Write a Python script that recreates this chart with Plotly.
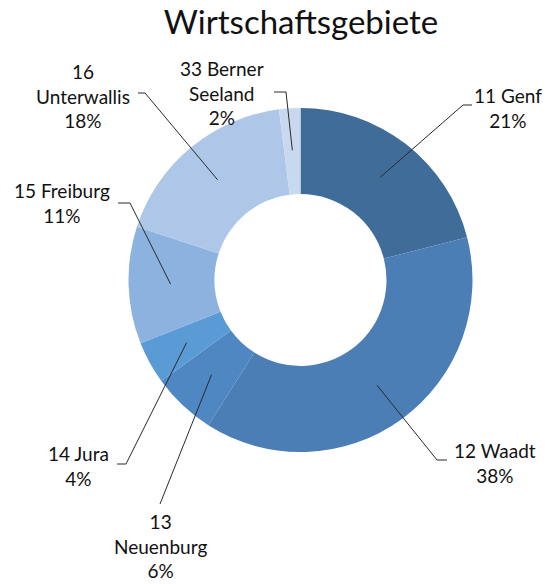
import math
import plotly.graph_objects as go

# ---- data ----
codes = ["11", "12", "13", "14", "15", "16", "33"]
names = ["Genf", "Waadt", "Neuenburg", "Jura", "Freiburg", "Unterwallis", "Berner Seeland"]
shares = [21, 38, 6, 4, 11, 18, 2]
label_texts = ["11 Genf", "12 Waadt", "13<br>Neuenburg", "14 Jura",
               "15 Freiburg", "16<br>Unterwallis", "33 Berner<br>Seeland"]
title_text = "Wirtschaftsgebiete"

# ---- style / layout ----
W, H = 549, 584
colors = ["#3F6C99", "#4A7EB5", "#4F87C2", "#5B9BD5", "#8CB2E0", "#AEC7E8", "#C8D8EF"]
cx, cy, R = 300.5, 280.0, 172.0        # pie centre/radius in pixels
hole = 0.5
tip_r = 130.0                           # where leader lines touch the slices
# label block centres (pixels)
label_centres = [(508, 108), (495, 463), (160, 546), (78, 466),
                 (62, 203), (83, 96), (222, 93)]
# leader-line elbow and tail end (pixels)
elbows = [(463, 105), (437, 460), (160, 504), (126, 464),
          (130, 203), (145, 93), (286, 92)]
tails = [(472, 105), (447, 460), (160, 504), (117, 464),
         (118, 203), (138, 93), (274, 92)]
font_family = "Lato, 'Open Sans', sans-serif"


def px(x):
    return x / W


def py(y):
    return 1 - y / H


fig = go.Figure(go.Pie(
    labels=[f"{c} {n}" for c, n in zip(codes, names)],
    values=shares,
    hole=hole,
    sort=False,
    direction="clockwise",
    rotation=0,
    marker=dict(colors=colors, line=dict(width=0)),
    textinfo="none",
    hoverinfo="label+percent",
    domain=dict(x=[px(cx - R), px(cx + R)],
                y=[py(cy + R), py(cy - R)]),
    showlegend=False,
))

total = sum(shares)
annotations = []
shapes = []
cum = 0
for i, v in enumerate(shares):
    mid = (cum + v / 2) / total * 2 * math.pi
    cum += v
    tx = cx + tip_r * math.sin(mid)
    ty = cy - tip_r * math.cos(mid)
    ex, ey = elbows[i]
    sx, sy = tails[i]
    path = f"M {px(tx)} {py(ty)} L {px(ex)} {py(ey)} L {px(sx)} {py(sy)}"
    shapes.append(dict(type="path", xref="paper", yref="paper", path=path,
                       line=dict(color="#2a2a2a", width=1)))
    lx, ly = label_centres[i]
    pct = round(v / total * 100)
    annotations.append(dict(
        x=px(lx), y=py(ly), xref="paper", yref="paper",
        xanchor="center", yanchor="middle",
        text=f"{label_texts[i]}<br>{pct}%",
        showarrow=False,
        font=dict(family=font_family, size=19, color="#111111"),
        align="center",
    ))

fig.update_layout(
    width=W, height=H,
    margin=dict(l=0, r=0, t=0, b=0),
    paper_bgcolor="white", plot_bgcolor="white",
    title=dict(text=title_text, x=301 / W, y=1 - 22 / H,
               xanchor="center", yanchor="middle",
               font=dict(family=font_family, size=33, color="#111111")),
    annotations=annotations,
    shapes=shapes,
)

fig.write_html("out.html",
               config={"displayModeBar": False},
               post_script="document.body.style.margin='0';document.body.style.overflow='hidden';")
